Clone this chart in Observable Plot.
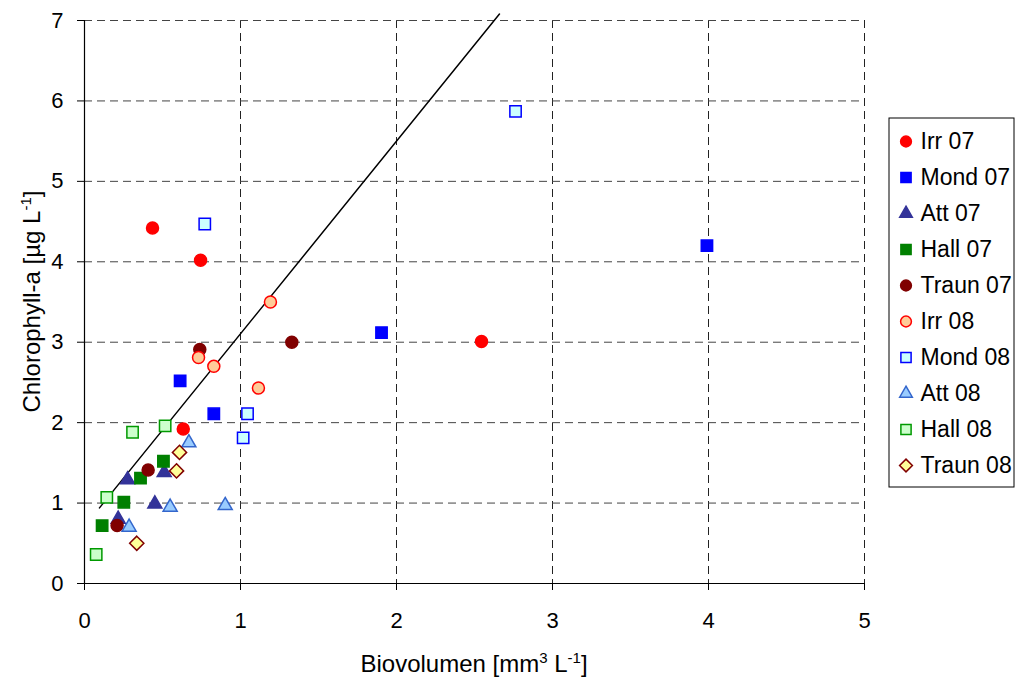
<!DOCTYPE html>
<html><head><meta charset="utf-8">
<script src="https://cdn.jsdelivr.net/npm/d3@7"></script>
<script src="https://cdn.jsdelivr.net/npm/@observablehq/plot@0.6"></script>
<style>
body{margin:0;background:#fff;}
#wrap{position:relative;width:1018px;height:677px;font-family:"Liberation Sans",Arial,sans-serif;}
#legend{position:absolute;left:888px;top:117px;}
svg{overflow:visible;}
</style></head><body><div id="wrap"><div id="main"></div><div id="legend"></div></div>
<script>
// ---- data ----
const seriesNames = ["Irr 07","Mond 07","Att 07","Hall 07","Traun 07","Irr 08","Mond 08","Att 08","Hall 08","Traun 08"];
const irr07X   = [0.436, 0.744, 0.633, 2.545];
const irr07Y   = [4.42, 4.02, 1.92, 3.01];
const mond07X  = [0.613, 0.829, 1.904, 3.99];
const mond07Y  = [2.52, 2.11, 3.12, 4.20];
const att07X   = [0.276, 0.511, 0.451, 0.216];
const att07Y   = [1.29, 1.38, 0.99, 0.80];
const hall07X  = [0.506, 0.359, 0.252, 0.113];
const hall07Y  = [1.52, 1.31, 1.01, 0.72];
const traun07X = [0.408, 0.209, 0.739, 1.329];
const traun07Y = [1.41, 0.72, 2.91, 3.00];
const irr08X   = [0.731, 0.829, 1.115, 1.192];
const irr08Y   = [2.81, 2.70, 2.43, 3.50];
const mond08X  = [0.771, 2.763, 1.045, 1.017];
const mond08Y  = [4.47, 5.87, 2.11, 1.81];
const att08X   = [0.669, 0.549, 0.902, 0.286];
const att08Y   = [1.75, 0.95, 0.97, 0.70];
const hall08X  = [0.308, 0.517, 0.143, 0.075];
const hall08Y  = [1.88, 1.96, 1.07, 0.36];
const traun08X = [0.609, 0.590, 0.335];
const traun08Y = [1.63, 1.40, 0.50];
const trendX = [0.096, 2.66];
const trendY = [0.94, 7.08];
const xTicks = [0,1,2,3,4,5];
const yTicks = [0,1,2,3,4,5,6,7];

const seriesX = [irr07X, mond07X, att07X, hall07X, traun07X, irr08X, mond08X, att08X, hall08X, traun08X];
const seriesY = [irr07Y, mond07Y, att07Y, hall07Y, traun07Y, irr08Y, mond08Y, att08Y, hall08Y, traun08Y];

// ---- styles ----
const styles = {
  "Irr 07":   {symbol:"circle",   fill:"#FF0000", stroke:"#FF0000", r:6},
  "Mond 07":  {symbol:"square",   fill:"#0000FF", stroke:"#0000FF", r:6.4},
  "Att 07":   {symbol:"triangle", fill:"#333399", stroke:"#333399", r:5.2},
  "Hall 07":  {symbol:"square",   fill:"#008000", stroke:"#008000", r:6.4},
  "Traun 07": {symbol:"circle",   fill:"#800000", stroke:"#800000", r:6},
  "Irr 08":   {symbol:"circle",   fill:"#FFCC99", stroke:"#FF0000", r:6},
  "Mond 08":  {symbol:"square",   fill:"#CCFFFF", stroke:"#0000FF", r:6.4},
  "Att 08":   {symbol:"triangle", fill:"#99CCFF", stroke:"#3366CC", r:5.2},
  "Hall 08":  {symbol:"square",   fill:"#CCFFCC", stroke:"#009900", r:6.4},
  "Traun 08": {symbol:"diamond2", fill:"#FFFF99", stroke:"#800000", r:6.4}
};

const rows = [];
seriesNames.forEach((name, i) => {
  seriesX[i].forEach((xv, j) => rows.push({series: name, x: xv, y: seriesY[i][j]}));
});
const trend = trendX.map((xv, i) => ({x: xv, y: trendY[i]}));

const font = '"Liberation Sans", Arial, sans-serif';

const dotMarks = seriesNames.map(name => {
  const s = styles[name];
  return Plot.dot(rows.filter(d => d.series === name), {
    x: "x", y: "y", symbol: () => s.symbol, r: s.r,
    fill: s.fill, stroke: s.stroke, strokeWidth: 1.5
  });
});

const chart = Plot.plot({
  width: 1018, height: 677,
  marginLeft: 84, marginRight: 154, marginTop: 20, marginBottom: 94,
  style: {fontFamily: font, fontSize: "22px", color: "#000", background: "#fff", overflow: "visible"},
  x: {domain: [0, 5]},
  y: {domain: [0, 7]},
  symbol: {type: "identity"},
  marks: [
    Plot.gridX(xTicks.filter(t => t > 0), {stroke: "#222", strokeOpacity: 1, strokeDasharray: "8,5", strokeWidth: 1}),
    Plot.gridY(yTicks.filter(t => t > 0), {stroke: "#444", strokeOpacity: 1, strokeDasharray: "8,5", strokeWidth: 1}),
    Plot.axisX(xTicks, {tickSize: 7, tickPadding: 22, label: null, fontSize: 22, tickFormat: d => String(d)}),
    Plot.axisY(yTicks, {tickSize: 7, tickPadding: 14, label: null, fontSize: 22, tickFormat: d => String(d)}),
    Plot.ruleX([0], {stroke: "#000", strokeWidth: 1.2}),
    Plot.ruleY([0], {stroke: "#000", strokeWidth: 1.2}),
    Plot.line(trend, {x: "x", y: "y", stroke: "#000", strokeWidth: 1.5}),
    ...dotMarks
  ]
});
document.getElementById("main").appendChild(chart);

// axis titles with superscripts
const sx = chart.scale("x"), sy = chart.scale("y");
const svg = d3.select(chart);
const xl = svg.append("text")
  .attr("x", (sx.apply(0) + sx.apply(5)) / 2).attr("y", 672)
  .attr("text-anchor", "middle").attr("font-size", 24).attr("fill", "#000")
  .attr("font-family", font);
xl.append("tspan").text("Biovolumen [mm");
xl.append("tspan").attr("dy", -9).attr("font-size", 15).text("3");
xl.append("tspan").attr("dy", 9).text(" L");
xl.append("tspan").attr("dy", -9).attr("font-size", 15).text("-1");
xl.append("tspan").attr("dy", 9).text("]");

const yl = svg.append("text")
  .attr("transform", `translate(40,${(sy.apply(0) + sy.apply(7)) / 2}) rotate(-90)`)
  .attr("text-anchor", "middle").attr("font-size", 24).attr("fill", "#000")
  .attr("font-family", font);
yl.append("tspan").text("Chlorophyll-a [µg L");
yl.append("tspan").attr("dy", -9).attr("font-size", 15).text("-1");
yl.append("tspan").attr("dy", 9).text("]");

// legend
const legendMarks = [Plot.frame({stroke: "#000", inset: 0.5})];
seriesNames.forEach(name => {
  const s = styles[name];
  legendMarks.push(Plot.dot([name], {
    y: d => d, frameAnchor: "left", dx: 17.5, symbol: () => s.symbol, r: s.r * 0.9,
    fill: s.fill, stroke: s.stroke, strokeWidth: 1.5
  }));
  legendMarks.push(Plot.text([name], {
    y: d => d, text: d => d, frameAnchor: "left", dx: 32, textAnchor: "start",
    fontSize: 23, fill: "#000"
  }));
});
const legend = Plot.plot({
  width: 126, height: 370, margin: 0,
  style: {fontFamily: font, background: "#fff", overflow: "visible"},
  y: {type: "point", domain: seriesNames, range: [21.3, 351.3], padding: 0, axis: null},
  symbol: {type: "identity"},
  marks: legendMarks
});
document.getElementById("legend").appendChild(legend);
</script></body></html>
